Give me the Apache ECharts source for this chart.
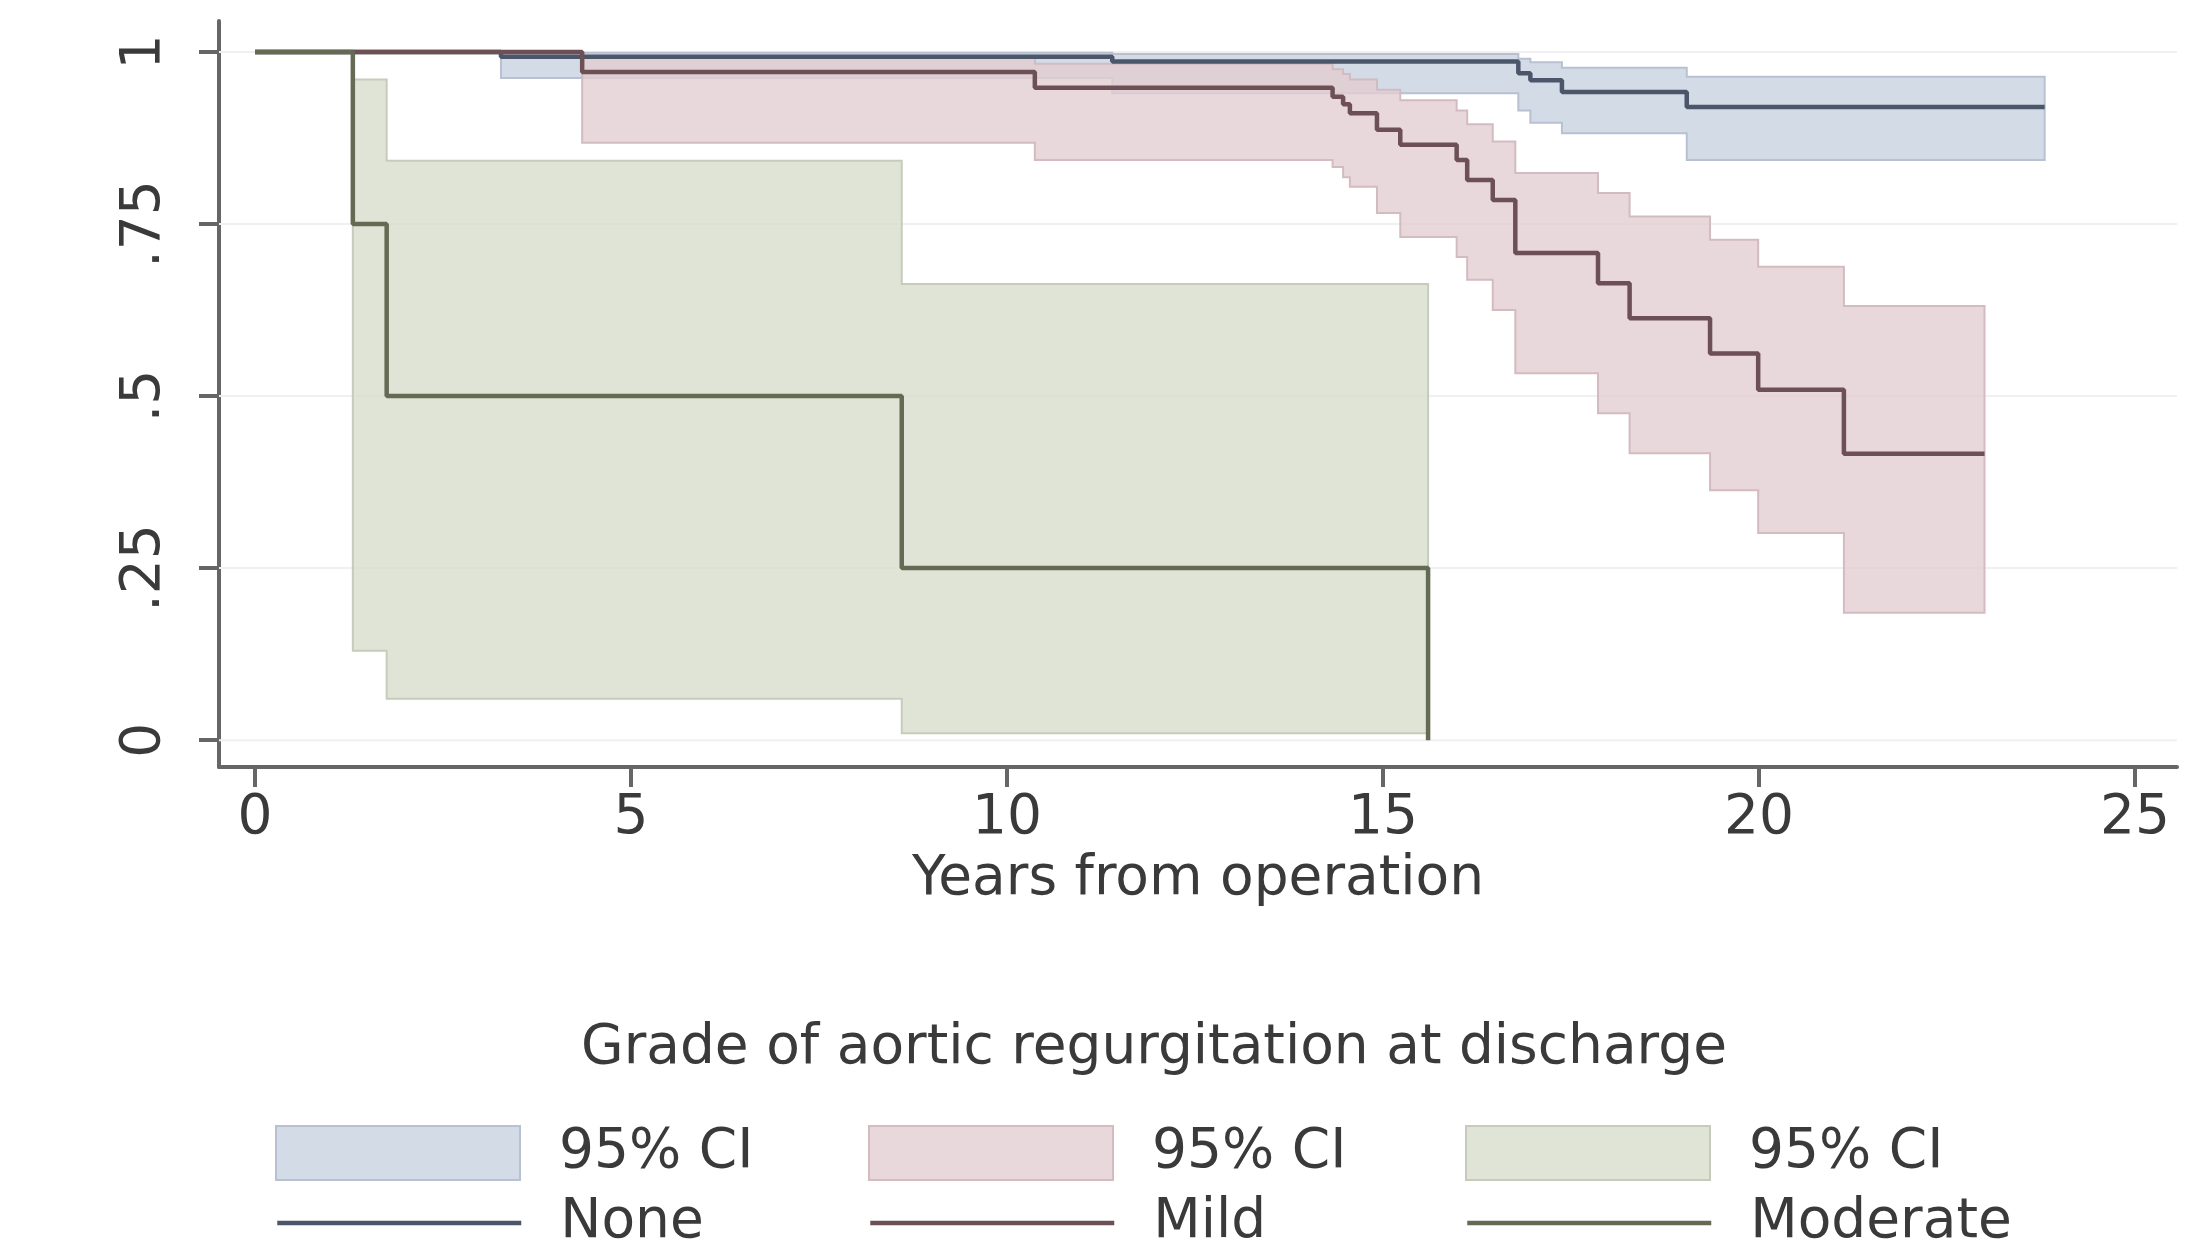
<!DOCTYPE html>
<html>
<head>
<meta charset="utf-8">
<title>Survival by grade of aortic regurgitation</title>
<script src="https://cdn.jsdelivr.net/npm/echarts@6/dist/echarts.min.js"></script>
<style>
  html, body { margin: 0; padding: 0; background: #ffffff; }
  #chart { width: 2188px; height: 1243px; }
</style>
</head>
<body>
<div id="chart"></div>
<script>
// Kaplan-Meier step estimates (time in years, survival proportion) with 95% CI bounds
const noneTime  = [0, 3.27, 11.4, 16.8, 16.96, 17.38, 19.04, 23.8];
const noneSurv  = [1, 0.993, 0.986, 0.969, 0.959, 0.942, 0.920, 0.920];
const noneLower = [null, 0.962, 0.940, 0.915, 0.897, 0.882, 0.843, 0.843];
const noneUpper = [null, 0.999, 0.997, 0.990, 0.985, 0.977, 0.964, 0.964];

const mildTime  = [0, 4.35, 10.37, 14.33, 14.47, 14.56, 14.92, 15.23, 15.98, 16.12, 16.46, 16.76, 17.86, 18.28, 19.35, 19.99, 21.13, 23.0];
const mildSurv  = [1, 0.971, 0.948, 0.935, 0.924, 0.911, 0.887, 0.865, 0.843, 0.814, 0.785, 0.708, 0.664, 0.613, 0.562, 0.509, 0.416, 0.416];
const mildLower = [null, 0.868, 0.843, 0.833, 0.818, 0.804, 0.766, 0.731, 0.702, 0.669, 0.625, 0.533, 0.475, 0.417, 0.363, 0.301, 0.185, 0.185];
const mildUpper = [null, 0.993, 0.983, 0.975, 0.968, 0.960, 0.945, 0.930, 0.915, 0.895, 0.870, 0.824, 0.795, 0.761, 0.727, 0.688, 0.631, 0.631];

const modTime  = [0, 1.3, 1.75, 8.6, 15.6];
const modSurv  = [1, 0.75, 0.5, 0.25, 0];
const modLower = [null, 0.13, 0.06, 0.01, null];
const modUpper = [null, 0.96, 0.842, 0.663, null];

const xTicks = [0, 5, 10, 15, 20, 25];
const yTicks = [0, 0.25, 0.5, 0.75, 1];
const yTickLabels = ['0', '.25', '.5', '.75', '1'];

const FONT = 'DejaVu Sans';
const TEXT = '#3a3a3a';
const AXIS = '#666666';

const colors = {
  None:     { fill: 'rgba(200,210,225,0.8)', solid: '#d3dbe7', edge: '#b7c1d1', line: '#4c566a' },
  Mild:     { fill: 'rgba(226,205,210,0.8)', solid: '#e8d7db', edge: '#d2bbc1', line: '#6c5055' },
  Moderate: { fill: 'rgba(216,221,205,0.8)', solid: '#e0e4d6', edge: '#c7ccba', line: '#646a54' }
};

// Confidence band drawn as one stepped polygon through the axis scales
function bandSeries(group, times, lower, upper) {
  const c = colors[group];
  return {
    name: group + ' CI',
    type: 'custom',
    coordinateSystem: 'cartesian2d',
    clip: true,
    silent: true,
    z: 2,
    itemStyle: { color: c.solid },
    encode: { x: 0, y: 1 },
    data: [[times[0], 1]],
    renderItem: function (params, api) {
      const top = [], bottom = [];
      for (let i = 0; i < times.length - 1; i++) {
        if (upper[i] == null) continue;
        top.push(api.coord([times[i], upper[i]]), api.coord([times[i + 1], upper[i]]));
        bottom.push(api.coord([times[i], lower[i]]), api.coord([times[i + 1], lower[i]]));
      }
      return {
        type: 'polygon',
        shape: { points: top.concat(bottom.reverse()) },
        style: { fill: c.fill, stroke: c.edge, lineWidth: 2 }
      };
    }
  };
}

function survivalSeries(group, times, surv) {
  const c = colors[group];
  return {
    name: group,
    type: 'line',
    step: 'end',
    symbol: 'none',
    showSymbol: false,
    silent: true,
    z: 5,
    itemStyle: { color: c.line },
    lineStyle: { color: c.line, width: 4.5 },
    data: times.map((t, i) => [t, surv[i]])
  };
}

// Faint horizontal reference lines at the y ticks
const gridLineSeries = {
  name: 'gridlines',
  type: 'custom',
  coordinateSystem: 'cartesian2d',
  silent: true,
  z: 1,
  encode: { x: 0, y: 1 },
  data: yTicks.map(v => [0, v]),
  renderItem: function (params, api) {
    const y = api.coord([0, api.value(1)])[1];
    return {
      type: 'line',
      shape: { x1: params.coordSys.x, y1: y, x2: params.coordSys.x + params.coordSys.width, y2: y },
      style: { stroke: '#f0f0f0', lineWidth: 2 }
    };
  }
};

const legendText = { fontFamily: FONT, fontSize: 55, color: TEXT, lineHeight: 56, padding: [0, 0, 0, 34] };
const legendCols = [275, 868, 1465];
const groups = ['None', 'Mild', 'Moderate'];

const legends = [];
groups.forEach((g, k) => {
  legends.push({
    left: legendCols[k], top: 1125, padding: 0, selectedMode: false,
    itemWidth: 244, itemHeight: 54, icon: 'rect',
    data: [{ name: g + ' CI', itemStyle: { color: colors[g].solid, borderColor: colors[g].edge, borderWidth: 2 } }],
    formatter: function () { return '95% CI'; },
    textStyle: legendText
  });
  legends.push({
    left: legendCols[k], top: 1195, padding: 0, selectedMode: false,
    itemWidth: 244, itemHeight: 56,
    data: [{ name: g }],
    itemStyle: { opacity: 0 },
    lineStyle: { width: 4.5 },
    textStyle: legendText
  });
});

const chart = echarts.init(document.getElementById('chart'), null, { renderer: 'canvas' });
chart.setOption({
  animation: false,
  backgroundColor: '#ffffff',
  grid: { left: 219, right: 11, top: 21, bottom: 476, containLabel: false },
  xAxis: {
    type: 'value',
    min: -0.48,
    max: 25.56,
    axisLine: { show: true, onZero: false, lineStyle: { color: AXIS, width: 4 } },
    axisTick: { show: true, customValues: xTicks, length: 20, lineStyle: { color: AXIS, width: 4 } },
    axisLabel: { customValues: xTicks, margin: 24, fontFamily: FONT, fontSize: 55, lineHeight: 56, color: TEXT },
    splitLine: { show: false },
    name: 'Years from operation',
    nameLocation: 'middle',
    nameGap: 78,
    nameTextStyle: { fontFamily: FONT, fontSize: 55, lineHeight: 56, color: TEXT }
  },
  yAxis: {
    type: 'value',
    min: -0.039,
    max: 1.045,
    axisLine: { show: true, onZero: false, lineStyle: { color: AXIS, width: 4 } },
    axisTick: { show: true, customValues: yTicks, length: 20, lineStyle: { color: AXIS, width: 4 } },
    axisLabel: {
      customValues: yTicks,
      rotate: 90,
      margin: 46,
      fontFamily: FONT, fontSize: 55, lineHeight: 56, color: TEXT,
      formatter: function (v) {
        const i = yTicks.findIndex(t => Math.abs(t - v) < 1e-9);
        return i >= 0 ? yTickLabels[i] : '';
      }
    },
    splitLine: { show: false }
  },
  legend: legends,
  graphic: [{
    type: 'text',
    x: 1154, y: 1049,
    style: {
      text: 'Grade of aortic regurgitation at discharge',
      align: 'center', verticalAlign: 'middle',
      font: '55px "DejaVu Sans"', fill: TEXT
    }
  }],
  series: [
    gridLineSeries,
    bandSeries('None', noneTime, noneLower, noneUpper),
    bandSeries('Mild', mildTime, mildLower, mildUpper),
    bandSeries('Moderate', modTime, modLower, modUpper),
    survivalSeries('None', noneTime, noneSurv),
    survivalSeries('Mild', mildTime, mildSurv),
    survivalSeries('Moderate', modTime, modSurv)
  ]
});
</script>
</body>
</html>
